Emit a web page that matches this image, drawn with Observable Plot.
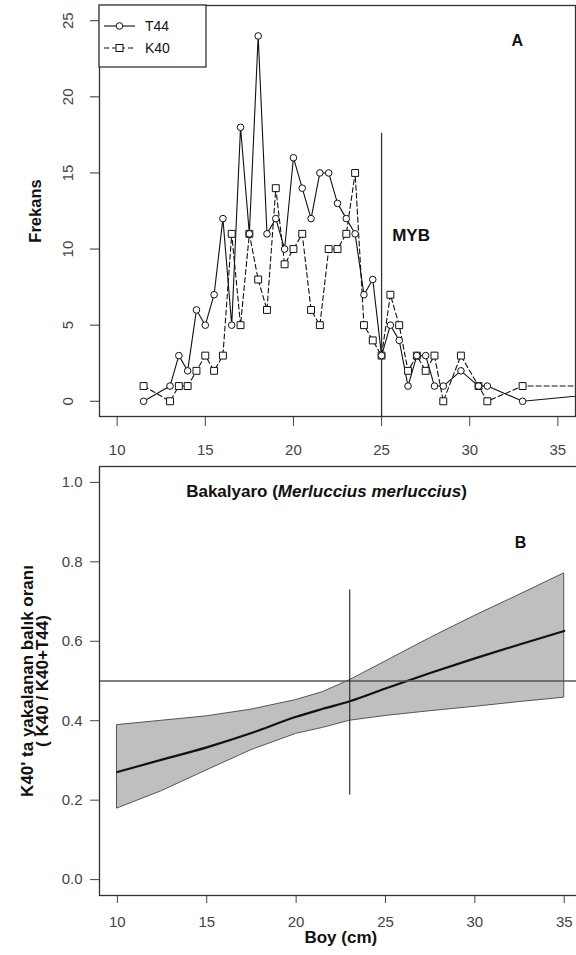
<!DOCTYPE html>
<html>
<head>
<meta charset="utf-8">
<script src="https://cdn.jsdelivr.net/npm/d3@7"></script>
<script src="https://cdn.jsdelivr.net/npm/@observablehq/plot@0.6"></script>
<style>
  body { margin: 0; background: #fff; }
  #wrap { position: relative; width: 576px; height: 955px; overflow: hidden; background: #fff; }
  #panelA, #panelB { position: absolute; left: 0; }
  #panelA { top: 0; }
  #panelB { top: 460px; }
</style>
</head>
<body>
<div id="wrap"><div id="panelA"></div><div id="panelB"></div></div>
<script>
// Panel A: length-frequency of hake caught by the two codends
const boyT44  = [11.5, 13, 13.5, 14, 14.5, 15, 15.5, 16, 16.5, 17, 17.5, 18, 18.5, 19, 19.5, 20, 20.5, 21, 21.5, 22, 22.5, 23, 23.5, 24, 24.5, 25, 25.5, 26, 26.5, 27, 27.5, 28, 28.5, 29.5, 30.5, 31, 33, 42];
const freqT44 = [0, 1, 3, 2, 6, 5, 7, 12, 5, 18, 11, 24, 11, 12, 10, 16, 14, 12, 15, 15, 13, 12, 11, 7, 8, 3, 5, 4, 1, 3, 3, 1, 1, 2, 1, 1, 0, 1];
const boyK40  = [11.5, 13, 13.5, 14, 14.5, 15, 15.5, 16, 16.5, 17, 17.5, 18, 18.5, 19, 19.5, 20, 20.5, 21, 21.5, 22, 22.5, 23, 23.5, 24, 24.5, 25, 25.5, 26, 26.5, 27, 27.5, 28, 28.5, 29.5, 30.5, 31, 33, 40];
const freqK40 = [1, 0, 1, 1, 2, 3, 2, 3, 11, 5, 11, 8, 6, 14, 9, 10, 11, 6, 5, 10, 10, 11, 15, 5, 4, 3, 7, 5, 2, 3, 2, 3, 0, 3, 1, 0, 1, 1];
const seriesNames = ["T44", "K40"];

// Panel B: proportion retained by K40 with confidence band
const boyFit   = [10, 12.5, 15, 17.5, 20, 21.5, 23, 25, 27.5, 30, 32.5, 35];
const fitRatio = [0.271, 0.302, 0.333, 0.369, 0.410, 0.430, 0.449, 0.481, 0.520, 0.557, 0.592, 0.626];
const upRatio  = [0.389, 0.400, 0.411, 0.428, 0.452, 0.472, 0.502, 0.549, 0.608, 0.664, 0.717, 0.771];
const lowRatio = [0.179, 0.223, 0.275, 0.326, 0.367, 0.382, 0.400, 0.412, 0.424, 0.435, 0.447, 0.458];

// Reference lines
const mybBoy = 25, mybTop = 17.6;             // minimum landing size (MYB)
const crossBoy = 23, crossLow = 0.2125, crossHigh = 0.729;
const halfRatio = 0.5;

// Tick values
const boyTicks = [10, 15, 20, 25, 30, 35];
const freqTicks = [0, 5, 10, 15, 20, 25];
const ratioTicks = [0, 0.2, 0.4, 0.6, 0.8, 1.0];

const speciesTitle = "Bakalyaro (Merluccius merluccius)";
const yLabelB = "K40' ta yakalanan balık oranı\n( K40 / K40+T44)";

const font = '"Liberation Sans", Arial, Helvetica, sans-serif';
const t44 = boyT44.map((b, i) => ({boy: b, n: freqT44[i]}));
const k40 = boyK40.map((b, i) => ({boy: b, n: freqK40[i]}));
const band = boyFit.map((b, i) => ({boy: b, fit: fitRatio[i], hi: upRatio[i], lo: lowRatio[i]}));

const chartA = Plot.plot({
  width: 576, height: 460,
  marginTop: 5, marginRight: 1, marginBottom: 44, marginLeft: 99,
  x: {domain: [9, 36]},
  y: {domain: [-1, 26]},
  style: {fontFamily: font, background: "transparent", color: "#111"},
  marks: [
    Plot.axisY(freqTicks, {tickSize: 9, tickFormat: () => "", label: null, color: "#333"}),
    Plot.text(freqTicks, {y: d => d, text: d => String(d), frameAnchor: "left", textAnchor: "middle", dx: -31, rotate: -90, fontSize: 15, fill: "#444"}),
    Plot.axisX(boyTicks, {tickSize: 10, tickPadding: 18, fontSize: 15, label: null, color: "#444"}),
    Plot.text(["Frekans"], {frameAnchor: "left", textAnchor: "middle", dx: -64, rotate: -90, fontSize: 16.5, fontWeight: "bold", fill: "#111"}),
    Plot.ruleX([mybBoy], {y1: -1, y2: mybTop, stroke: "#333", strokeWidth: 1.3}),
    Plot.line(t44, {x: "boy", y: "n", stroke: "#111", strokeWidth: 1.1, clip: true}),
    Plot.line(k40, {x: "boy", y: "n", stroke: "#111", strokeWidth: 1.1, strokeDasharray: "5,3", clip: true}),
    Plot.dot(k40, {x: "boy", y: "n", symbol: "square", r: 3.9, fill: "white", stroke: "#111", strokeWidth: 1, clip: true}),
    Plot.dot(t44, {x: "boy", y: "n", symbol: "circle", r: 3.3, fill: "white", stroke: "#111", strokeWidth: 1, clip: true}),
    Plot.text(["MYB"], {x: 25.6, y: 10.9, textAnchor: "start", fontSize: 17, fontWeight: "bold", fill: "#111"}),
    Plot.text(["A"], {x: 32.7, y: 23.7, fontSize: 16, fontWeight: "bold", fill: "#111"}),
    Plot.frame({stroke: "#333", strokeWidth: 1.3})
  ]
});

// Legend box in the top-left corner of panel A
{
  const svg = d3.select(chartA);
  const lx = 99, ly = 5;
  const g = svg.append("g").attr("font-family", font).attr("text-anchor", "start");
  g.append("rect").attr("x", lx).attr("y", ly).attr("width", 107).attr("height", 62)
    .attr("fill", "white").attr("stroke", "#333").attr("stroke-width", 1.3);
  seriesNames.forEach((name, i) => {
    const cy = ly + 21 + i * 22;
    g.append("line").attr("x1", lx + 5).attr("x2", lx + 36).attr("y1", cy).attr("y2", cy)
      .attr("stroke", "#111").attr("stroke-width", 1.1)
      .attr("stroke-dasharray", i === 1 ? "5,3" : null);
    if (i === 0) {
      g.append("circle").attr("cx", lx + 20.5).attr("cy", cy).attr("r", 3.3)
        .attr("fill", "white").attr("stroke", "#111");
    } else {
      g.append("rect").attr("x", lx + 17).attr("y", cy - 3.5).attr("width", 7).attr("height", 7)
        .attr("fill", "white").attr("stroke", "#111");
    }
    g.append("text").attr("x", lx + 46).attr("y", cy).attr("dy", "0.35em")
      .attr("font-size", 14).attr("fill", "#111").text(name);
  });
}

const chartB = Plot.plot({
  width: 576, height: 495,
  marginTop: 6, marginRight: -5.6, marginBottom: 60, marginLeft: 99,
  x: {domain: [9, 36]},
  y: {domain: [-0.04, 1.04]},
  style: {fontFamily: font, background: "transparent", color: "#111"},
  marks: [
    Plot.areaY(band, {x: "boy", y1: "lo", y2: "hi", fill: "#bfbfbf", stroke: "#555", strokeWidth: 1}),
    Plot.line(band, {x: "boy", y: "fit", stroke: "#111", strokeWidth: 2.2, curve: "monotone-x"}),
    Plot.ruleY([halfRatio], {stroke: "#555", strokeWidth: 1.3}),
    Plot.ruleX([crossBoy], {y1: crossLow, y2: crossHigh, stroke: "#222", strokeWidth: 1.1}),
    Plot.axisY(ratioTicks, {tickSize: 9, tickPadding: 8, tickFormat: d3.format(".1f"), fontSize: 15, label: null, color: "#444"}),
    Plot.axisX(boyTicks, {tickSize: 8, tickPadding: 12.6, fontSize: 15, label: null, color: "#444"}),
    Plot.text([yLabelB], {frameAnchor: "left", textAnchor: "middle", dx: -64, rotate: -90, fontSize: 17, fontWeight: "bold", lineHeight: 0.9, fill: "#111"}),
    Plot.text(["Boy (cm)"], {frameAnchor: "bottom", dy: 47, fontSize: 17, fontWeight: "bold", fill: "#111"}),
    Plot.text([speciesTitle], {x: 21.7, y: 0.978, fontSize: 17, fontWeight: "bold", fill: "#111"}),
    Plot.text(["B"], {x: 32.55, y: 0.847, fontSize: 16, fontWeight: "bold", fill: "#111"}),
    Plot.frame({stroke: "#333", strokeWidth: 1.3})
  ]
});

// Species name in italics inside the title
d3.select(chartB).selectAll("text")
  .filter(function () { return this.textContent === speciesTitle; })
  .each(function () {
    const t = d3.select(this);
    t.text(null);
    t.append("tspan").text("Bakalyaro (");
    t.append("tspan").attr("font-style", "italic").text("Merluccius merluccius");
    t.append("tspan").text(")");
  });

document.getElementById("panelA").appendChild(chartA);
document.getElementById("panelB").appendChild(chartB);
</script>
</body>
</html>
